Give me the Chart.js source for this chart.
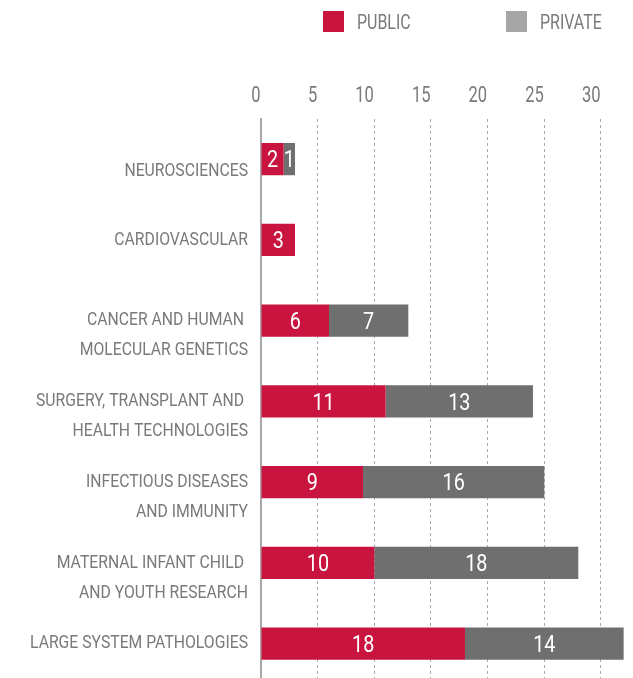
<!DOCTYPE html>
<html>
<head>
<meta charset="utf-8">
<title>Projects by research area</title>
<script src="https://cdn.jsdelivr.net/npm/chart.js@4/dist/chart.umd.min.js"></script>
<style>
  html, body { margin: 0; padding: 0; background: #ffffff; overflow: hidden; }
  #wrap { position: relative; width: 633px; height: 684px; }
</style>
</head>
<body>
<div id="wrap"><canvas id="chart"></canvas></div>
<script>
// Research areas (multi-line labels)
const categories = [
  ["NEUROSCIENCES"],
  ["CARDIOVASCULAR"],
  ["CANCER AND HUMAN ", "MOLECULAR GENETICS"],
  ["SURGERY, TRANSPLANT AND ", "HEALTH TECHNOLOGIES"],
  ["INFECTIOUS DISEASES", "AND IMMUNITY"],
  ["MATERNAL INFANT CHILD ", "AND YOUTH RESEARCH"],
  ["LARGE SYSTEM PATHOLOGIES"]
];
const publicValues  = [2, 3, 6, 11, 9, 10, 18];
const privateValues = [1, null, 7, 13, 16, 18, 14];
const xTickValues   = [0, 5, 10, 15, 20, 25, 30];
const seriesNames   = ["PUBLIC", "PRIVATE"];

const RED = "#c8143e";
const DARK_GREY = "#6f6f6f";
const LEGEND_GREY = "#a6a6a6";
const TEXT_GREY = "#7a7a7a";
const FONT = "Roboto, 'Liberation Sans', sans-serif";

// Draws text squeezed horizontally to get a condensed look; y is the visual centre of capitals.
function drawCondensed(ctx, text, x, y, size, sx, align, color) {
  ctx.save();
  ctx.font = size + "px " + FONT;
  ctx.fillStyle = color;
  ctx.textAlign = align;
  ctx.textBaseline = "alphabetic";
  ctx.translate(x, y + size * 0.355);
  ctx.scale(sx, 1);
  ctx.fillText(text, 0, 0);
  ctx.restore();
}

const textPlugin = {
  id: "textPlugin",
  afterDraw(chart) {
    const ctx = chart.ctx;
    const area = chart.chartArea;
    const xs = chart.scales.x;
    const ys = chart.scales.y;

    // Legend
    const legendX = [323, 506];
    const legendColors = [RED, LEGEND_GREY];
    seriesNames.forEach((name, i) => {
      ctx.fillStyle = legendColors[i];
      ctx.fillRect(legendX[i], 11, 21, 21);
      drawCondensed(ctx, name, legendX[i] + 34, 22, 21, 0.76, "left", TEXT_GREY);
    });

    // X tick labels
    xs.ticks.forEach(t => {
      const px = xs.getPixelForValue(t.value);
      drawCondensed(ctx, String(t.value), px - 0.5, area.top - 25, 22, 0.75, "right", TEXT_GREY);
    });

    // Category labels
    chart.data.labels.forEach((lines, i) => {
      const cy = ys.getPixelForValue(i) - 1.5 + (i === 0 ? 12 : 0);
      lines.forEach((line, j) => {
        drawCondensed(ctx, line, 248, cy + j * 30, 17.5, 0.9, "right", TEXT_GREY);
      });
    });
  },
  afterDatasetsDraw(chart) {
    const ctx = chart.ctx;
    chart.data.datasets.forEach((ds, di) => {
      const meta = chart.getDatasetMeta(di);
      meta.data.forEach((el, i) => {
        const v = ds.data[i];
        if (v === null || v === 0) return;
        const cx = (el.x + el.base) / 2;
        drawCondensed(ctx, String(v), cx, el.y, 23, 0.86, "center", "#ffffff");
      });
    });
  }
};

new Chart(document.getElementById("chart"), {
  type: "bar",
  data: {
    labels: categories,
    datasets: [
      { label: seriesNames[0], data: publicValues, backgroundColor: RED, borderWidth: 0 },
      { label: seriesNames[1], data: privateValues, backgroundColor: DARK_GREY, borderWidth: 0 }
    ]
  },
  options: {
    indexAxis: "y",
    responsive: true,
    maintainAspectRatio: false,
    animation: false,
    layout: { padding: { top: 0, left: 0, right: 3.7, bottom: 0 } },
    datasets: { bar: { barPercentage: 0.4, categoryPercentage: 1 } },
    plugins: {
      legend: { display: false },
      tooltip: { enabled: false },
      title: { display: false }
    },
    scales: {
      x: {
        position: "top",
        stacked: true,
        min: 0,
        max: 32.5,
        afterBuildTicks(scale) { scale.ticks = xTickValues.map(v => ({ value: v })); },
        afterFit(scale) { scale.height = 118.7; },
        ticks: { display: false },
        grid: {
          drawTicks: false,
          lineWidth: 1,
          color: ctx => (ctx.tick && ctx.tick.value === 0 ? "rgba(0,0,0,0)" : "#a9a9a9")
        },
        border: { display: false, dash: [3, 3] }
      },
      y: {
        stacked: true,
        afterFit(scale) { scale.width = 261; },
        ticks: { display: false },
        grid: { display: true, drawTicks: false, color: "rgba(0,0,0,0)" },
        border: { display: true, color: "#a8a8a8", width: 2 }
      }
    }
  },
  plugins: [textPlugin]
});
</script>
</body>
</html>
